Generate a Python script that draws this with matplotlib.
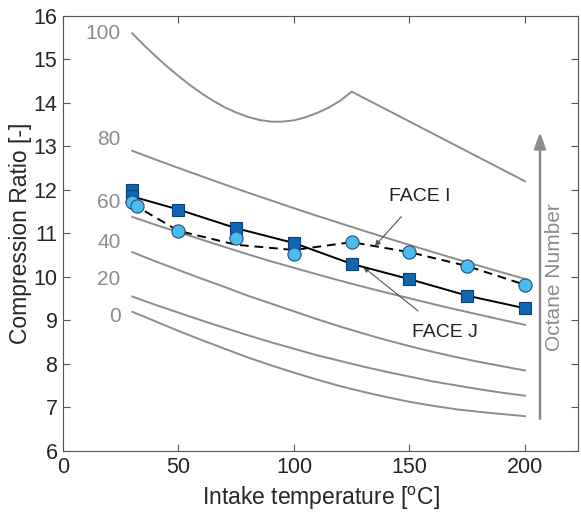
import numpy as np
import matplotlib
matplotlib.use("Agg")
from matplotlib import pyplot as plt

plt.rcParams['font.family'] = ['Liberation Sans', 'DejaVu Sans']
plt.rcParams['mathtext.default'] = 'regular'

# octane number iso-lines (grey), sampled every 10 degC
ron_x = [30, 40, 50, 60, 70, 80, 90, 100, 110, 120, 130, 140, 150, 160, 170, 180, 190, 200]
ron80 = [12.90, 12.70, 12.505, 12.315, 12.125, 11.94, 11.76, 11.58, 11.405, 11.235,
         11.065, 10.90, 10.735, 10.575, 10.415, 10.26, 10.105, 9.955]
ron60 = [11.38, 11.20, 11.03, 10.86, 10.69, 10.52, 10.36, 10.21, 10.06, 9.915,
         9.775, 9.64, 9.51, 9.38, 9.255, 9.135, 9.015, 8.90]
ron40 = [10.57, 10.36, 10.16, 9.96, 9.77, 9.57, 9.39, 9.21, 9.03, 8.86,
         8.70, 8.55, 8.41, 8.28, 8.16, 8.05, 7.95, 7.85]
ron20 = [9.55, 9.36, 9.18, 9.00, 8.83, 8.66, 8.50, 8.35, 8.20, 8.07,
         7.94, 7.82, 7.71, 7.60, 7.51, 7.42, 7.34, 7.27]
ron0 = [9.20, 8.98, 8.76, 8.55, 8.35, 8.15, 7.97, 7.80, 7.64, 7.49,
        7.36, 7.24, 7.13, 7.04, 6.96, 6.90, 6.85, 6.80]

# RON 100 line has a knee at ~125 degC
ron100_x = [30, 35, 40, 45, 50, 55, 60, 65, 70, 75, 80, 85, 90, 95, 100, 105,
            110, 115, 120, 125, 200]
ron100 = [15.60, 15.33, 15.08, 14.84, 14.62, 14.41, 14.22, 14.05, 13.90, 13.78,
          13.68, 13.61, 13.57, 13.57, 13.60, 13.67, 13.77, 13.89, 14.05, 14.26, 12.20]

ron_labels = ['100', '80', '60', '40', '20', '0']
ron_label_y = [15.6, 13.17, 11.72, 10.8, 9.95, 9.1]

# measured FACE fuels
face_j_x = [30, 30, 50, 75, 100, 125, 150, 175, 200]
face_j_y = [12.0, 11.85, 11.55, 11.12, 10.78, 10.30, 9.95, 9.57, 9.28]
face_i_x = [30, 32, 50, 75, 100, 125, 150, 175, 200]
face_i_y = [11.72, 11.64, 11.06, 10.90, 10.53, 10.80, 10.57, 10.25, 9.82]
trend_x = [30, 50, 75, 100, 125, 150, 175, 200]
face_i_trend = [11.68, 11.06, 10.74, 10.62, 10.80, 10.57, 10.25, 9.82]

grey = '#8c8c8c'
fig = plt.figure(figsize=(5.81, 5.14), dpi=100)
ax = fig.add_axes([0.1084, 0.1226, 0.8866, 0.8464])

for yy in [ron80, ron60, ron40, ron20, ron0]:
    ax.plot(ron_x, yy, color=grey, lw=1.4)
ax.plot(ron100_x, ron100, color=grey, lw=1.4)
for lab, ly in zip(ron_labels, ron_label_y):
    ax.text(25, ly, lab, color=grey, fontsize=15, ha='right', va='center')

ax.plot(face_j_x, face_j_y, '-', color='k', lw=1.4, marker='s', ms=8,
        mfc='#1166b3', mec='#0b3f75', mew=0.8, zorder=4)
ax.plot(trend_x, face_i_trend, '--', color='k', lw=1.4, dashes=(4.5, 3), zorder=3)
ax.plot(face_i_x, face_i_y, 'o', ms=9.5, mfc='#4cbbee', mec='#1d4f7e', mew=0.8,
        zorder=5)

ax.annotate('FACE I', xy=(135, 10.71), xytext=(154.5, 11.86), fontsize=14,
            color='#222222', ha='center', va='center',
            arrowprops=dict(arrowstyle='-|>', color='#555555', lw=0.8,
                            mutation_scale=8, shrinkA=9, shrinkB=0))
ax.annotate('FACE J', xy=(130, 10.23), xytext=(165.4, 8.72), fontsize=14,
            color='#222222', ha='center', va='center',
            arrowprops=dict(arrowstyle='-|>', color='#555555', lw=0.8,
                            mutation_scale=8, shrinkA=12, shrinkB=0))

# octane number direction arrow
ax.annotate('', xy=(206.5, 13.33), xytext=(206.5, 6.74),
            arrowprops=dict(arrowstyle='-|>,head_width=0.25,head_length=0.7',
                            color=grey, lw=1.8, mutation_scale=14,
                            shrinkA=0, shrinkB=0))
ax.text(213, 10.0, 'Octane Number', rotation=90, color=grey, fontsize=15,
        ha='center', va='center')

ax.set_xlim(0, 223)
ax.set_ylim(6, 16)
ax.set_xticks([0, 50, 100, 150, 200])
ax.set_yticks(np.arange(6, 17, 1))
ax.tick_params(direction='in', length=5, width=0.8, top=True, right=True,
               labelsize=15.5, colors='#555555', labelcolor='#262626', pad=4)
for s in ax.spines.values():
    s.set_color('#555555')
    s.set_linewidth(0.8)
ax.set_xlabel('Intake temperature [$^{o}$C]', fontsize=16.5, color='#262626')
ax.set_ylabel('Compression Ratio [-]', fontsize=16.5, color='#262626')
ax.xaxis.set_label_coords(0.5, -0.078)
ax.yaxis.set_label_coords(-0.060, 0.5)

fig.savefig('out.png', dpi=100)
